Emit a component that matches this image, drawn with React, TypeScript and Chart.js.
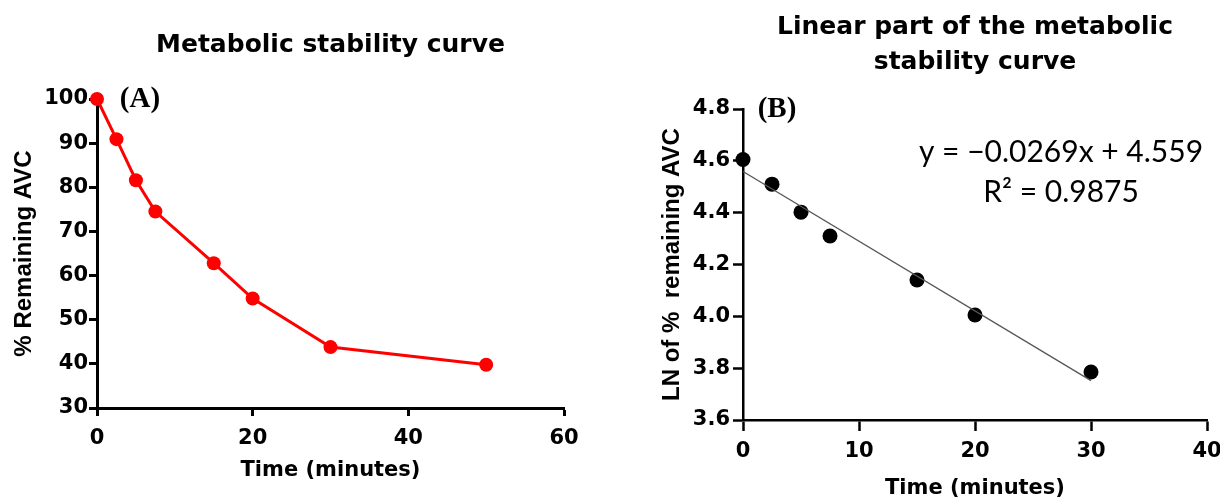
import React, { useEffect, useRef } from 'react';
import { Chart, registerables } from 'chart.js';

Chart.register(...registerables);
Chart.defaults.color = '#000';

// ---- Data (A): metabolic stability curve ----
const timeA = [0, 2.5, 5, 7.5, 15, 20, 30, 50];
const remainingA = [100, 90.9, 81.6, 74.5, 62.8, 54.8, 43.8, 39.8];
const xTicksA = [0, 20, 40, 60];
const yTicksA = [30, 40, 50, 60, 70, 80, 90, 100];

// ---- Data (B): linear part, LN of % remaining ----
const timeB = [0, 2.5, 5, 7.5, 15, 20, 30];
const lnRemainingB = [4.605, 4.51, 4.402, 4.31, 4.14, 4.005, 3.785];
const trendX = [0, 30];
const trendY = [4.559, 3.752];
const xTicksB = [0, 10, 20, 30, 40];
const yTicksB = [3.6, 3.8, 4.0, 4.2, 4.4, 4.6, 4.8];

const titleA = 'Metabolic stability curve';
const titleB = ['Linear part of the metabolic', 'stability curve'];
const equationText = 'y = \u22120.0269x + 4.559';
const r2Text = 'R\u00B2 = 0.9875';

const TICK_FONT = { family: 'DejaVu Sans', weight: 'bold' as const, size: 21, lineHeight: 1.2 };
const AXIS_TITLE_FONT = { family: 'DejaVu Sans', weight: 'bold' as const, size: 21, lineHeight: 1.2 };
const Y_TITLE_FONT = { family: 'Liberation Sans', weight: 'bold' as const, size: 24, lineHeight: 1.2 };

type TextItem = { text: string; dx: number; dy: number; font: string; align?: CanvasTextAlign };

function textPlugin(items: TextItem[]) {
  return {
    id: 'freeTexts',
    afterDraw(chart: any) {
      const { ctx, chartArea } = chart;
      ctx.save();
      ctx.fillStyle = '#000';
      ctx.textBaseline = 'middle';
      for (const it of items) {
        ctx.font = it.font;
        ctx.textAlign = it.align || 'center';
        ctx.fillText(it.text, chartArea.left + it.dx, chartArea.top + it.dy);
      }
      ctx.restore();
    },
  };
}

function setTicks(values: number[]) {
  return (scale: any) => {
    scale.ticks = values.map((v) => ({ value: v }));
  };
}

function makeAxis(opts: {
  min: number; max: number; ticks: number[]; tickLen: number; tickPad: number;
  border: number; title: string; titleFont: any; titlePad: any; size: number; horizontal: boolean; decimals: number;
}) {
  return {
    type: 'linear' as const,
    min: opts.min,
    max: opts.max,
    afterBuildTicks: setTicks(opts.ticks),
    afterFit: (scale: any) => {
      if (opts.horizontal) {
        scale.height = opts.size;
        scale.paddingLeft = 0;
        scale.paddingRight = 0;
      } else {
        scale.width = opts.size;
        scale.paddingTop = 0;
        scale.paddingBottom = 0;
      }
    },
    ticks: {
      autoSkip: false,
      color: '#000',
      font: TICK_FONT,
      padding: opts.tickPad,
      maxRotation: 0,
      callback: (v: any) => Number(v).toFixed(opts.decimals),
    },
    grid: {
      display: true,
      drawOnChartArea: false,
      drawTicks: true,
      tickLength: opts.tickLen,
      tickWidth: opts.border,
      tickColor: '#000',
      color: '#000',
    },
    border: { display: true, color: '#000', width: opts.border },
    title: {
      display: true,
      text: opts.title,
      color: '#000',
      font: opts.titleFont,
      padding: opts.titlePad,
    },
  };
}

function ChartA() {
  const ref = useRef<HTMLCanvasElement>(null);
  useEffect(() => {
    const chart = new Chart(ref.current!, {
      type: 'scatter',
      data: {
        datasets: [
          {
            data: timeA.map((t, i) => ({ x: t, y: remainingA[i] })),
            showLine: true,
            borderColor: '#ff0000',
            backgroundColor: '#ff0000',
            borderWidth: 3,
            pointRadius: 7,
            pointBorderWidth: 0,
            clip: false as any,
          },
        ],
      },
      options: {
        responsive: false,
        animation: false,
        layout: { padding: { left: 0, right: 46, top: 0, bottom: 0 } },
        plugins: {
          legend: { display: false },
          tooltip: { enabled: false },
          title: {
            display: true,
            fullSize: false,
            text: titleA,
            color: '#000',
            font: { family: 'DejaVu Sans', weight: 'bold', size: 25, lineHeight: 1.2 },
            padding: { top: 30, bottom: 39 },
          },
        },
        scales: {
          x: makeAxis({
            min: 0, max: 60, ticks: xTicksA, tickLen: 8, tickPad: 10, border: 3,
            title: 'Time (minutes)', titleFont: AXIS_TITLE_FONT, titlePad: { top: 0, bottom: 17 },
            size: 92, horizontal: true, decimals: 0,
          }) as any,
          y: makeAxis({
            min: 30, max: 100, ticks: yTicksA, tickLen: 8, tickPad: 1, border: 3,
            title: '% Remaining AVC', titleFont: Y_TITLE_FONT, titlePad: { top: 10, bottom: 0 },
            size: 97, horizontal: false, decimals: 0,
          }) as any,
        },
      },
      plugins: [
        textPlugin([
          { text: '(A)', dx: 43, dy: 1, font: 'bold 29px "Liberation Serif"' },
        ]),
      ],
    });
    return () => chart.destroy();
  }, []);
  return <canvas ref={ref} width={610} height={500} style={{ position: 'absolute', left: 0, top: 0 }} />;
}

function ChartB() {
  const ref = useRef<HTMLCanvasElement>(null);
  useEffect(() => {
    const chart = new Chart(ref.current!, {
      type: 'scatter',
      data: {
        datasets: [
          {
            data: trendX.map((t, i) => ({ x: t, y: trendY[i] })),
            showLine: true,
            borderColor: '#555555',
            borderWidth: 1.3,
            pointRadius: 0,
            clip: false as any,
          },
          {
            data: timeB.map((t, i) => ({ x: t, y: lnRemainingB[i] })),
            showLine: false,
            backgroundColor: '#000',
            borderColor: '#000',
            pointRadius: 7.5,
            pointBorderWidth: 0,
            clip: false as any,
          },
        ],
      },
      options: {
        responsive: false,
        animation: false,
        layout: { padding: { left: 0, right: 13, top: 0, bottom: 0 } },
        plugins: {
          legend: { display: false },
          tooltip: { enabled: false },
          title: {
            display: true,
            fullSize: false,
            text: titleB,
            color: '#000',
            font: { family: 'DejaVu Sans', weight: 'bold', size: 25, lineHeight: 1.4 },
            padding: { top: 9.5, bottom: 29.5 },
          },
        },
        scales: {
          x: makeAxis({
            min: 0, max: 40, ticks: xTicksB, tickLen: 11, tickPad: 8, border: 2.5,
            title: 'Time (minutes)', titleFont: AXIS_TITLE_FONT, titlePad: { top: 0, bottom: -1 },
            size: 80, horizontal: true, decimals: 0,
          }) as any,
          y: makeAxis({
            min: 3.6, max: 4.8, ticks: yTicksB, tickLen: 10, tickPad: 3, border: 2.5,
            title: 'LN of %  remaining AVC', titleFont: Y_TITLE_FONT, titlePad: { top: 48, bottom: 0 },
            size: 133, horizontal: false, decimals: 1,
          }) as any,
        },
      },
      plugins: [
        textPlugin([
          { text: '(B)', dx: 34, dy: 1, font: 'bold 29px "Liberation Serif"' },
          { text: equationText, dx: 318, dy: 43, font: '30px Lato' },
          { text: r2Text, dx: 318, dy: 83, font: '30px Lato' },
        ]),
      ],
    });
    return () => chart.destroy();
  }, []);
  return <canvas ref={ref} width={610} height={500} style={{ position: 'absolute', left: 610, top: 0 }} />;
}

export default function App() {
  return (
    <div style={{ position: 'fixed', left: 0, top: 0, width: 1220, height: 500, background: '#fff', overflow: 'hidden' }}>
      <ChartA />
      <ChartB />
    </div>
  );
}
